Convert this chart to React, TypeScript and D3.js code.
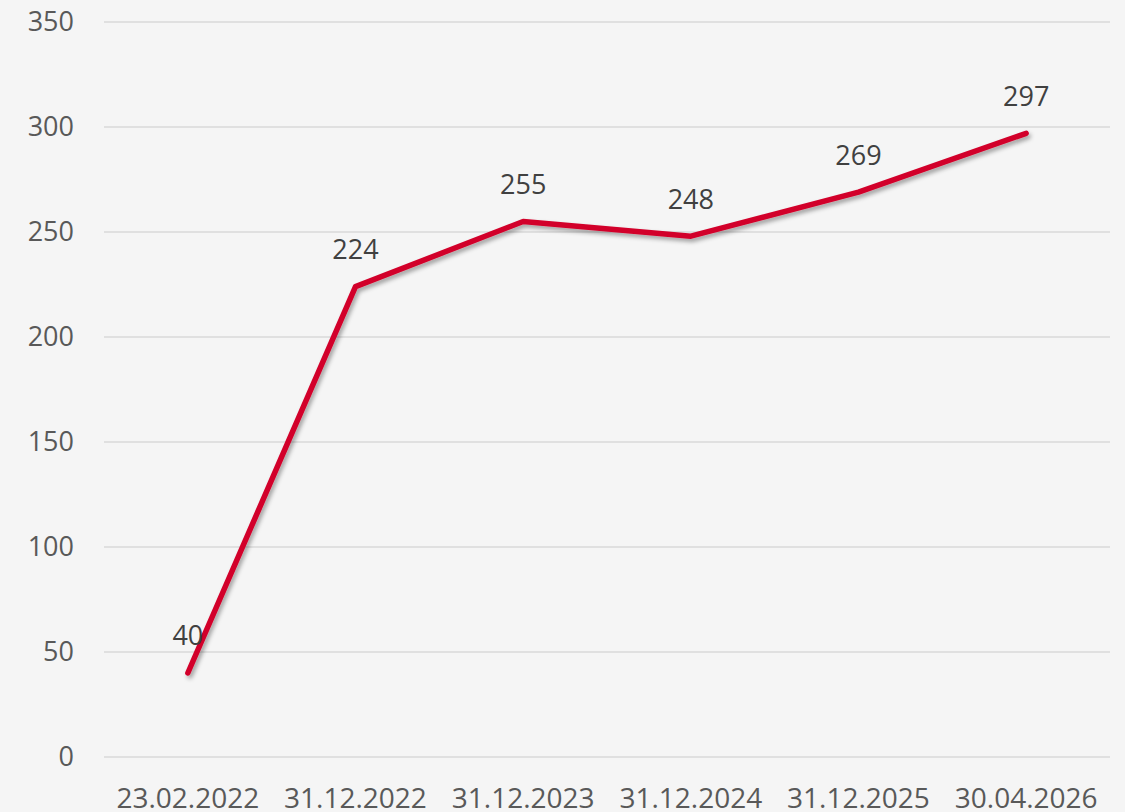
import React from 'react';
import * as d3 from 'd3';

const width = 1125;
const height = 812;
const margin = { top: 22, right: 15, bottom: 55, left: 104 };

const dates = ['23.02.2022', '31.12.2022', '31.12.2023', '31.12.2024', '31.12.2025', '30.04.2026'];
const values = [40, 224, 255, 248, 269, 297];
const yTicks = [0, 50, 100, 150, 200, 250, 300, 350];

const fontFamily = '"Open Sans", "Noto Sans", sans-serif';

const App = () => {
  const x = d3
    .scaleBand()
    .domain(dates)
    .range([margin.left, width - margin.right]);

  const y = d3
    .scaleLinear()
    .domain([0, 350])
    .range([height - margin.bottom, margin.top]);

  const cx = (d: string) => (x(d) ?? 0) + x.bandwidth() / 2;

  const line = d3
    .line<number>()
    .x((_, i) => cx(dates[i]))
    .y((d) => y(d));

  return (
    <svg
      width={width}
      height={height}
      style={{ position: 'absolute', left: 0, top: 0, background: '#f5f5f5' }}
    >
      <defs>
        <filter id="shadow" x="-10%" y="-10%" width="120%" height="120%">
          <feDropShadow dx="2" dy="3" stdDeviation="2" floodColor="#000" floodOpacity="0.35" />
        </filter>
      </defs>
      <rect width={width} height={height} fill="#f5f5f5" />
      <g>
        {yTicks.map((t) => (
          <g key={t}>
            <line
              x1={margin.left}
              x2={width - margin.right}
              y1={y(t)}
              y2={y(t)}
              stroke="#d9d9d9"
              strokeWidth={1.5}
            />
            <text
              x={74}
              y={y(t)}
              dy="0.35em"
              textAnchor="end"
              fontSize={27}
              fill="#595959"
              fontFamily={fontFamily}
            >
              {t}
            </text>
          </g>
        ))}
      </g>
      <g>
        {dates.map((d) => (
          <text
            key={d}
            x={cx(d)}
            y={798}
            dy="0.35em"
            textAnchor="middle"
            fontSize={28}
            fill="#595959"
            fontFamily={fontFamily}
          >
            {d}
          </text>
        ))}
      </g>
      <path
        d={line(values) ?? ''}
        fill="none"
        stroke="#d2002b"
        strokeWidth={5.5}
        strokeLinecap="round"
        strokeLinejoin="round"
        filter="url(#shadow)"
      />
      <g>
        {values.map((v, i) => (
          <text
            key={i}
            x={cx(dates[i])}
            y={y(v) - 37}
            dy="0.35em"
            textAnchor="middle"
            fontSize={27}
            fill="#404040"
            fontFamily={fontFamily}
          >
            {v}
          </text>
        ))}
      </g>
    </svg>
  );
};

export default App;
